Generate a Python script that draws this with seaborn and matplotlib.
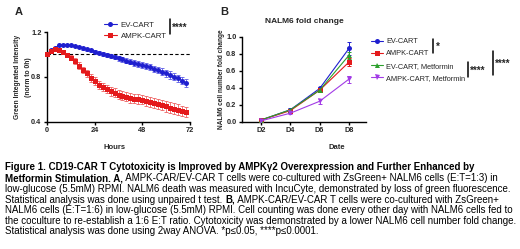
import numpy as np
import pandas as pd
import matplotlib
matplotlib.use("Agg")
import matplotlib.pyplot as plt
from matplotlib.lines import Line2D
import seaborn as sns

sns.set_theme(style="ticks")
plt.rcParams['font.family'] = ['Liberation Sans', 'DejaVu Sans']

# ---------------- Data: panel A ----------------
hours = list(range(0, 72, 2))
ev_cart = [1.00, 1.04, 1.06, 1.08, 1.085, 1.085, 1.08, 1.075, 1.065, 1.055, 1.045, 1.035,
           1.025, 1.015, 1.005, 0.995, 0.985, 0.975, 0.965, 0.955, 0.945, 0.935, 0.925, 0.915,
           0.905, 0.895, 0.885, 0.87, 0.86, 0.845, 0.83, 0.815, 0.80, 0.785, 0.765, 0.745]
ev_err = [0.0, 0.005, 0.006, 0.007, 0.008, 0.008, 0.009, 0.01, 0.011, 0.012, 0.013, 0.014,
          0.015, 0.016, 0.017, 0.018, 0.019, 0.02, 0.021, 0.022, 0.023, 0.024, 0.025, 0.026,
          0.027, 0.028, 0.028, 0.029, 0.03, 0.03, 0.031, 0.032, 0.032, 0.033, 0.033, 0.034]
ampk_cart = [1.00, 1.03, 1.045, 1.04, 1.02, 0.995, 0.97, 0.94, 0.90, 0.86, 0.83, 0.79,
             0.76, 0.73, 0.71, 0.69, 0.67, 0.655, 0.64, 0.63, 0.62, 0.61, 0.605, 0.60,
             0.595, 0.585, 0.575, 0.565, 0.555, 0.545, 0.535, 0.525, 0.515, 0.505, 0.495, 0.485]
ampk_err = [0.0, 0.008, 0.012, 0.015, 0.018, 0.02, 0.022, 0.025, 0.028, 0.03, 0.032, 0.034,
            0.035, 0.036, 0.037, 0.038, 0.039, 0.04, 0.04, 0.041, 0.041, 0.042, 0.042, 0.043,
            0.043, 0.044, 0.044, 0.045, 0.045, 0.046, 0.046, 0.047, 0.047, 0.048, 0.048, 0.048]

# ---------------- Data: panel B ----------------
days = ["D2", "D4", "D6", "D8"]
b_series = ["EV-CART", "AMPK-CART", "EV-CART, Metformin", "AMPK-CART, Metformin"]
b_ev = [0.02, 0.14, 0.39, 0.86]
b_ev_err = [0.005, 0.015, 0.02, 0.08]
b_ampk = [0.02, 0.13, 0.37, 0.70]
b_ampk_err = [0.005, 0.01, 0.02, 0.05]
b_evm = [0.02, 0.14, 0.37, 0.78]
b_evm_err = [0.005, 0.01, 0.02, 0.04]
b_ampkm = [0.01, 0.10, 0.24, 0.50]
b_ampkm_err = [0.005, 0.01, 0.03, 0.04]

blue = "#1f1fcf"
red = "#e41a1c"
green = "#2ca02c"
purple = "#a23be6"

W, H = 520, 249
fig = plt.figure(figsize=(W / 100, H / 100), dpi=100)

def fx(px):
    return px / W

def fy(py):
    return 1 - py / H

MS = 3.6

# ---------------- Panel A ----------------
axA = fig.add_axes([fx(47), fy(121.5), fx(190) - fx(47), fy(32) - fy(121.5)])
dfA = pd.DataFrame({"Hours": hours * 2,
                    "val": ev_cart + ampk_cart,
                    "grp": ["EV-CART"] * len(hours) + ["AMPK-CART"] * len(hours)})
axA.errorbar(hours, ev_cart, yerr=ev_err, fmt="none", ecolor="#5a5ae6", elinewidth=0.6,
             capsize=1.5, capthick=0.6, clip_on=False, zorder=2)
axA.errorbar(hours, ampk_cart, yerr=ampk_err, fmt="none", ecolor="#ee6060", elinewidth=0.6,
             capsize=1.5, capthick=0.6, clip_on=False, zorder=2)
sns.lineplot(data=dfA, x="Hours", y="val", hue="grp", style="grp",
             palette={"EV-CART": blue, "AMPK-CART": red},
             markers={"EV-CART": "o", "AMPK-CART": "s"}, dashes=False,
             markersize=MS, markeredgewidth=0, linewidth=0.8, ax=axA, legend=False,
             clip_on=False, zorder=3)
axA.axhline(1.0, color="black", linestyle=(0, (3, 2)), linewidth=0.8, zorder=1)
axA.set_xlim(0, 72)
axA.set_ylim(0.4, 1.2)
axA.set_xticks([0, 24, 48, 72])
axA.set_yticks([0.4, 0.8, 1.2])
axA.set_yticklabels(["0.4", "0.8", "1.2"])
axA.set_xlabel("Hours", fontsize=5.5, fontweight="bold")
axA.set_ylabel("")
axA.xaxis.set_label_coords((115 - 47) / 143, -(144 - 121.5) / 89.5)
fig.text(fx(18), fy(77), "Green Integrated Intensity", rotation=90, fontsize=4.9,
         fontweight="bold", ha="center", va="center")
fig.text(fx(29), fy(77), "(norm to 0h)", rotation=90, fontsize=4.9,
         fontweight="bold", ha="center", va="center")

# ---------------- Panel B ----------------
axB = fig.add_axes([fx(242), fy(121.7), fx(366) - fx(242), fy(36.5) - fy(121.7)])
vals = [b_ev, b_ampk, b_evm, b_ampkm]
errs = [b_ev_err, b_ampk_err, b_evm_err, b_ampkm_err]
colsB = [blue, red, green, purple]
mk = ["o", "s", "^", "v"]
dfB = pd.DataFrame({"Date": days * 4,
                    "x": list(range(4)) * 4,
                    "val": sum(vals, []),
                    "grp": sum([[s] * 4 for s in b_series], [])})
for v, e, c in zip(vals, errs, colsB):
    axB.errorbar(range(4), v, yerr=e, fmt="none", ecolor=c, elinewidth=0.7,
                 capsize=1.5, capthick=0.7, zorder=2)
sns.lineplot(data=dfB, x="x", y="val", hue="grp", style="grp",
             palette=dict(zip(b_series, colsB)), markers=dict(zip(b_series, mk)),
             dashes=False, markersize=MS, markeredgewidth=0, linewidth=0.8, ax=axB,
             legend=False, zorder=3)
axB.set_xlim(-0.65, 3.58)
axB.set_ylim(0, 1.0)
axB.set_xticks(range(4))
axB.set_xticklabels(days)
axB.set_yticks([0, 0.2, 0.4, 0.6, 0.8, 1.0])
axB.set_yticklabels(["0.0", "0.2", "0.4", "0.6", "0.8", "1.0"])
axB.set_xlabel("Date", fontsize=5.5, fontweight="bold")
axB.set_ylabel("NALM6 cell number fold change", fontsize=4.7, fontweight="bold")
axB.xaxis.set_label_coords((337 - 242) / 124, -(144 - 121.7) / 85.2)
axB.yaxis.set_label_coords(-(242 - 225) / 124, 0.5)
axB.set_title("NALM6 fold change", fontsize=6.0, fontweight="bold", pad=10)

for ax in (axA, axB):
    sns.despine(ax=ax)
    for s in ("left", "bottom"):
        ax.spines[s].set_linewidth(1.0)
        ax.spines[s].set_color("black")
    ax.tick_params(axis="both", labelsize=5.3, width=1.0, length=2.5, pad=1.5, color="black")
    for lab in ax.get_xticklabels() + ax.get_yticklabels():
        lab.set_fontweight("bold")
    ax.set_facecolor("white")

# ---------------- Legends ----------------
hA = [Line2D([], [], color=blue, marker="o", markersize=MS, markeredgewidth=0, linewidth=0.8),
      Line2D([], [], color=red, marker="s", markersize=MS, markeredgewidth=0, linewidth=0.8)]
fig.legend(hA, ["EV-CART", "AMPK-CART"], loc="upper left",
           bbox_to_anchor=(fx(104), fy(21)), frameon=False, fontsize=5.7,
           handlelength=1.6, handletextpad=0.5, labelspacing=0.45, borderaxespad=0,
           borderpad=0)
hB = [Line2D([], [], color=c, marker=m, markersize=MS, markeredgewidth=0, linewidth=0.8)
      for c, m in zip(colsB, mk)]
fig.legend(hB, b_series, loc="upper left", bbox_to_anchor=(fx(371), fy(38)), frameon=False,
           fontsize=5.3, handlelength=1.6, handletextpad=0.5, labelspacing=0.7,
           borderaxespad=0, borderpad=0)

# significance brackets
def vbar(x, y0, y1):
    fig.add_artist(Line2D([fx(x), fx(x)], [fy(y0), fy(y1)], color="black", linewidth=1.1))

vbar(170, 19, 34)
fig.text(fx(172), fy(28), "****", fontsize=7, fontweight="bold", va="center")
vbar(433, 39, 53)
fig.text(fx(435.5), fy(47), "*", fontsize=7, fontweight="bold", va="center")
vbar(468, 62, 77)
fig.text(fx(470), fy(71), "****", fontsize=7, fontweight="bold", va="center")
vbar(493, 51, 75)
fig.text(fx(495), fy(64), "****", fontsize=7, fontweight="bold", va="center")

# panel letters
fig.text(fx(15), fy(12), "A", fontsize=8, fontweight="bold", va="center")
fig.text(fx(220), fy(12), "B", fontsize=8, fontweight="bold", va="center")

# ---------------- Caption ----------------
cap_fs = 7.05
lines = [
    [("Figure 1. CD19-CAR T Cytotoxicity is Improved by AMPKγ2 Overexpression and Further Enhanced by", True)],
    [("Metformin Stimulation. A,", True),
     (" AMPK-CAR/EV-CAR T cells were co-cultured with ZsGreen+ NALM6 cells (E:T=1:3) in", False)],
    [("low-glucose (5.5mM) RPMI. NALM6 death was measured with IncuCyte, demonstrated by loss of green fluorescence.", False)],
    [("Statistical analysis was done using unpaired t test. ", False), ("B,", True),
     (" AMPK-CAR/EV-CAR T cells were co-cultured with ZsGreen+", False)],
    [("NALM6 cells (E:T=1:6) in low-glucose (5.5mM) RPMI. Cell counting was done every other day with NALM6 cells fed to", False)],
    [("the coculture to re-establish a 1:6 E:T ratio. Cytotoxicity was demonstrated by a lower NALM6 cell number fold change.", False)],
    [("Statistical analysis was done using 2way ANOVA. *p≤0.05, ****p≤0.0001.", False)],
]
ys = [167, 178.3, 189, 199.7, 210.2, 220.7, 231]
fig.canvas.draw()
renderer = fig.canvas.get_renderer()
for parts, y in zip(lines, ys):
    x = 5
    for txt, bold in parts:
        t = fig.text(fx(x), fy(y), txt, fontsize=cap_fs,
                     fontweight="bold" if bold else "normal", va="center", ha="left",
                     color="black")
        bb = t.get_window_extent(renderer=renderer)
        x += bb.width

fig.savefig("out.png", dpi=100, facecolor="white")
